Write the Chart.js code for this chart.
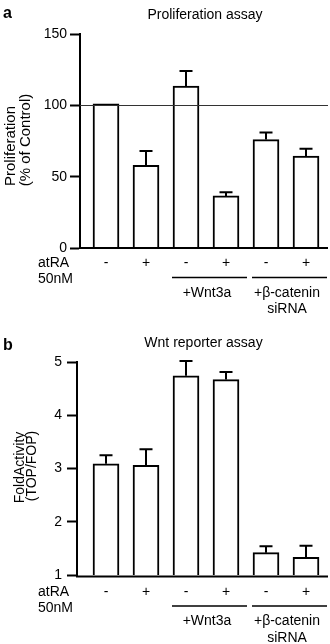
<!DOCTYPE html>
<html lang="en">
<head>
<meta charset="UTF-8">
<title>Proliferation and Wnt reporter assays</title>
<script src="https://cdn.jsdelivr.net/npm/chart.js"></script>
<style>
  html, body { margin: 0; padding: 0; background: #fff; }
  .panel { position: relative; width: 330px; height: 322px; }
</style>
</head>
<body>
<div class="panel"><canvas id="prolif"></canvas></div>
<div class="panel"><canvas id="reporter"></canvas></div>
<script>
// conditions under each bar
const atraSigns = ['-', '+', '-', '+', '-', '+'];
const groupLabels = [['+Wnt3a'], ['+\u03b2-catenin', 'siRNA']];
const groupBars = [[2, 3], [4, 5]];

// panel a: proliferation (% of control)
const prolifMeans = [101, 58, 113.5, 36.5, 76, 64.5];
const prolifErrors = [0, 10, 10.5, 2.5, 5, 5];
const prolifTicks = [0, 50, 100, 150];

// panel b: Wnt reporter (TOP/FOP)
const reporterMeans = [3.09, 3.06, 4.74, 4.67, 1.42, 1.33];
const reporterErrors = [0.16, 0.3, 0.28, 0.14, 0.12, 0.22];
const reporterTicks = [1, 2, 3, 4, 5];

const FONT = "'Liberation Sans', Arial, Helvetica, sans-serif";
Chart.defaults.color = '#000';
Chart.defaults.font.family = FONT;

const annotate = {
  id: 'annotate',
  afterDatasetsDraw(chart, args, o) {
    const ctx = chart.ctx, xs = chart.scales.x, ys = chart.scales.y, area = chart.chartArea;
    const pts = chart.data.datasets[0].data;
    ctx.save();
    ctx.strokeStyle = '#000';
    ctx.fillStyle = '#000';

    // reference line
    if (o.refLine != null) {
      const ry = Math.round(ys.getPixelForValue(o.refLine)) + 0.5;
      ctx.lineWidth = 1;
      ctx.strokeStyle = '#333';
      ctx.beginPath(); ctx.moveTo(area.left, ry); ctx.lineTo(area.right, ry); ctx.stroke();
      ctx.strokeStyle = '#000';
    }

    // x axis
    ctx.lineWidth = 2;
    const base = ys.getPixelForValue(ys.min) + o.axisShift;
    ctx.beginPath(); ctx.moveTo(area.left - 1, base); ctx.lineTo(area.right, base); ctx.stroke();

    // error bars (upper only)
    pts.forEach((p, i) => {
      const e = o.errors[i];
      if (!e) return;
      const cx = xs.getPixelForValue(p.x);
      const top = ys.getPixelForValue(p.y), end = ys.getPixelForValue(p.y + e);
      ctx.beginPath();
      ctx.moveTo(cx, top); ctx.lineTo(cx, end);
      ctx.moveTo(cx - 6.5, end); ctx.lineTo(cx + 6.5, end);
      ctx.stroke();
    });

    // panel letter and title
    ctx.textBaseline = 'alphabetic';
    ctx.textAlign = 'left';
    ctx.font = `bold 16px ${FONT}`;
    ctx.fillText(o.letter, 3, o.letterY);
    ctx.textAlign = 'center';
    ctx.font = `14px ${FONT}`;
    ctx.fillText(o.title, (area.left + area.right) / 2 + 1, area.top + o.titleDy);

    // rotated y title
    ctx.font = `${o.yTitleSize}px ${FONT}`;
    o.yTitle.forEach(t => {
      ctx.save();
      ctx.translate(t.x, t.y);
      ctx.rotate(-Math.PI / 2);
      ctx.fillText(t.text, 0, 0);
      ctx.restore();
    });

    // condition rows
    ctx.font = `14px ${FONT}`;
    const r = o.rows;
    ctx.textAlign = 'left';
    ctx.fillText('atRA', 38, area.bottom + r.sign);
    ctx.fillText('50nM', 38, area.bottom + r.conc);
    ctx.textAlign = 'center';
    atraSigns.forEach((s, i) => ctx.fillText(s, xs.getPixelForValue(i), area.bottom + r.sign));

    ctx.lineWidth = 1.5;
    groupBars.forEach((g, k) => {
      const x0 = xs.getPixelForValue(g[0]) - 14;
      const x1 = Math.min(xs.getPixelForValue(g[1]) + 21, area.right);
      const ly = area.bottom + r.line;
      ctx.beginPath(); ctx.moveTo(x0, ly); ctx.lineTo(x1, ly); ctx.stroke();
      const mid = (xs.getPixelForValue(g[0]) + xs.getPixelForValue(g[1])) / 2 + 1;
      groupLabels[k].forEach((txt, j) => {
        ctx.fillText(txt, mid, area.bottom + r.group + j * r.groupGap);
      });
    });
    ctx.restore();
  }
};

function makePanel(id, means, errors, ticks, opt) {
  return new Chart(document.getElementById(id), {
    type: 'bar',
    data: {
      datasets: [{
        data: means.map((v, i) => ({ x: i, y: v })),
        backgroundColor: '#fff',
        borderColor: '#000',
        borderWidth: 2,
        barThickness: 26
      }]
    },
    options: {
      responsive: true,
      maintainAspectRatio: false,
      animation: false,
      layout: { padding: opt.padding },
      plugins: {
        legend: { display: false },
        tooltip: { enabled: false },
        annotate: Object.assign({ errors }, opt.notes)
      },
      scales: {
        x: { type: 'linear', display: false, offset: false, bounds: 'data', min: opt.xMin, max: opt.xMax },
        y: {
          min: ticks[0],
          max: ticks[ticks.length - 1],
          afterBuildTicks: s => { s.ticks = ticks.map(v => ({ value: v })); },
          afterFit: s => { s.width = opt.axisX; },
          ticks: { font: { size: 14, family: FONT }, color: '#000', padding: opt.tickPad },
          grid: { drawOnChartArea: false, drawTicks: true, tickLength: 10, tickWidth: 2, tickColor: '#000' },
          border: { display: true, color: '#000', width: 2 }
        }
      }
    },
    plugins: [annotate]
  });
}

makePanel('prolif', prolifMeans, prolifErrors, prolifTicks, {
  padding: { top: 34, right: 2, bottom: 74, left: 0 },
  axisX: 80, xMin: -0.65, xMax: 5.55, tickPad: 3,
  notes: {
    refLine: 100, axisShift: 0,
    letter: 'a', letterY: 18, title: 'Proliferation assay', titleDy: -15.5,
    yTitleSize: 15,
    yTitle: [{ text: 'Proliferation', x: 15, y: 146 }, { text: '(% of Control)', x: 30, y: 140 }],
    rows: { sign: 19, conc: 35, line: 29.5, group: 49, groupGap: 15.5 }
  }
});

makePanel('reporter', reporterMeans, reporterErrors, reporterTicks, {
  padding: { top: 40, right: 2, bottom: 69, left: 0 },
  axisX: 77, xMin: -0.725, xMax: 5.55, tickPad: 5,
  notes: {
    refLine: null, axisShift: 1.5,
    letter: 'b', letterY: 28, title: 'Wnt reporter assay', titleDy: -15,
    yTitleSize: 14,
    yTitle: [{ text: 'FoldActivity', x: 24, y: 145.5 }, { text: '(TOP/FOP)', x: 36, y: 144 }],
    rows: { sign: 21, conc: 37, line: 31, group: 50, groupGap: 16.5 }
  }
});
</script>
</body>
</html>
